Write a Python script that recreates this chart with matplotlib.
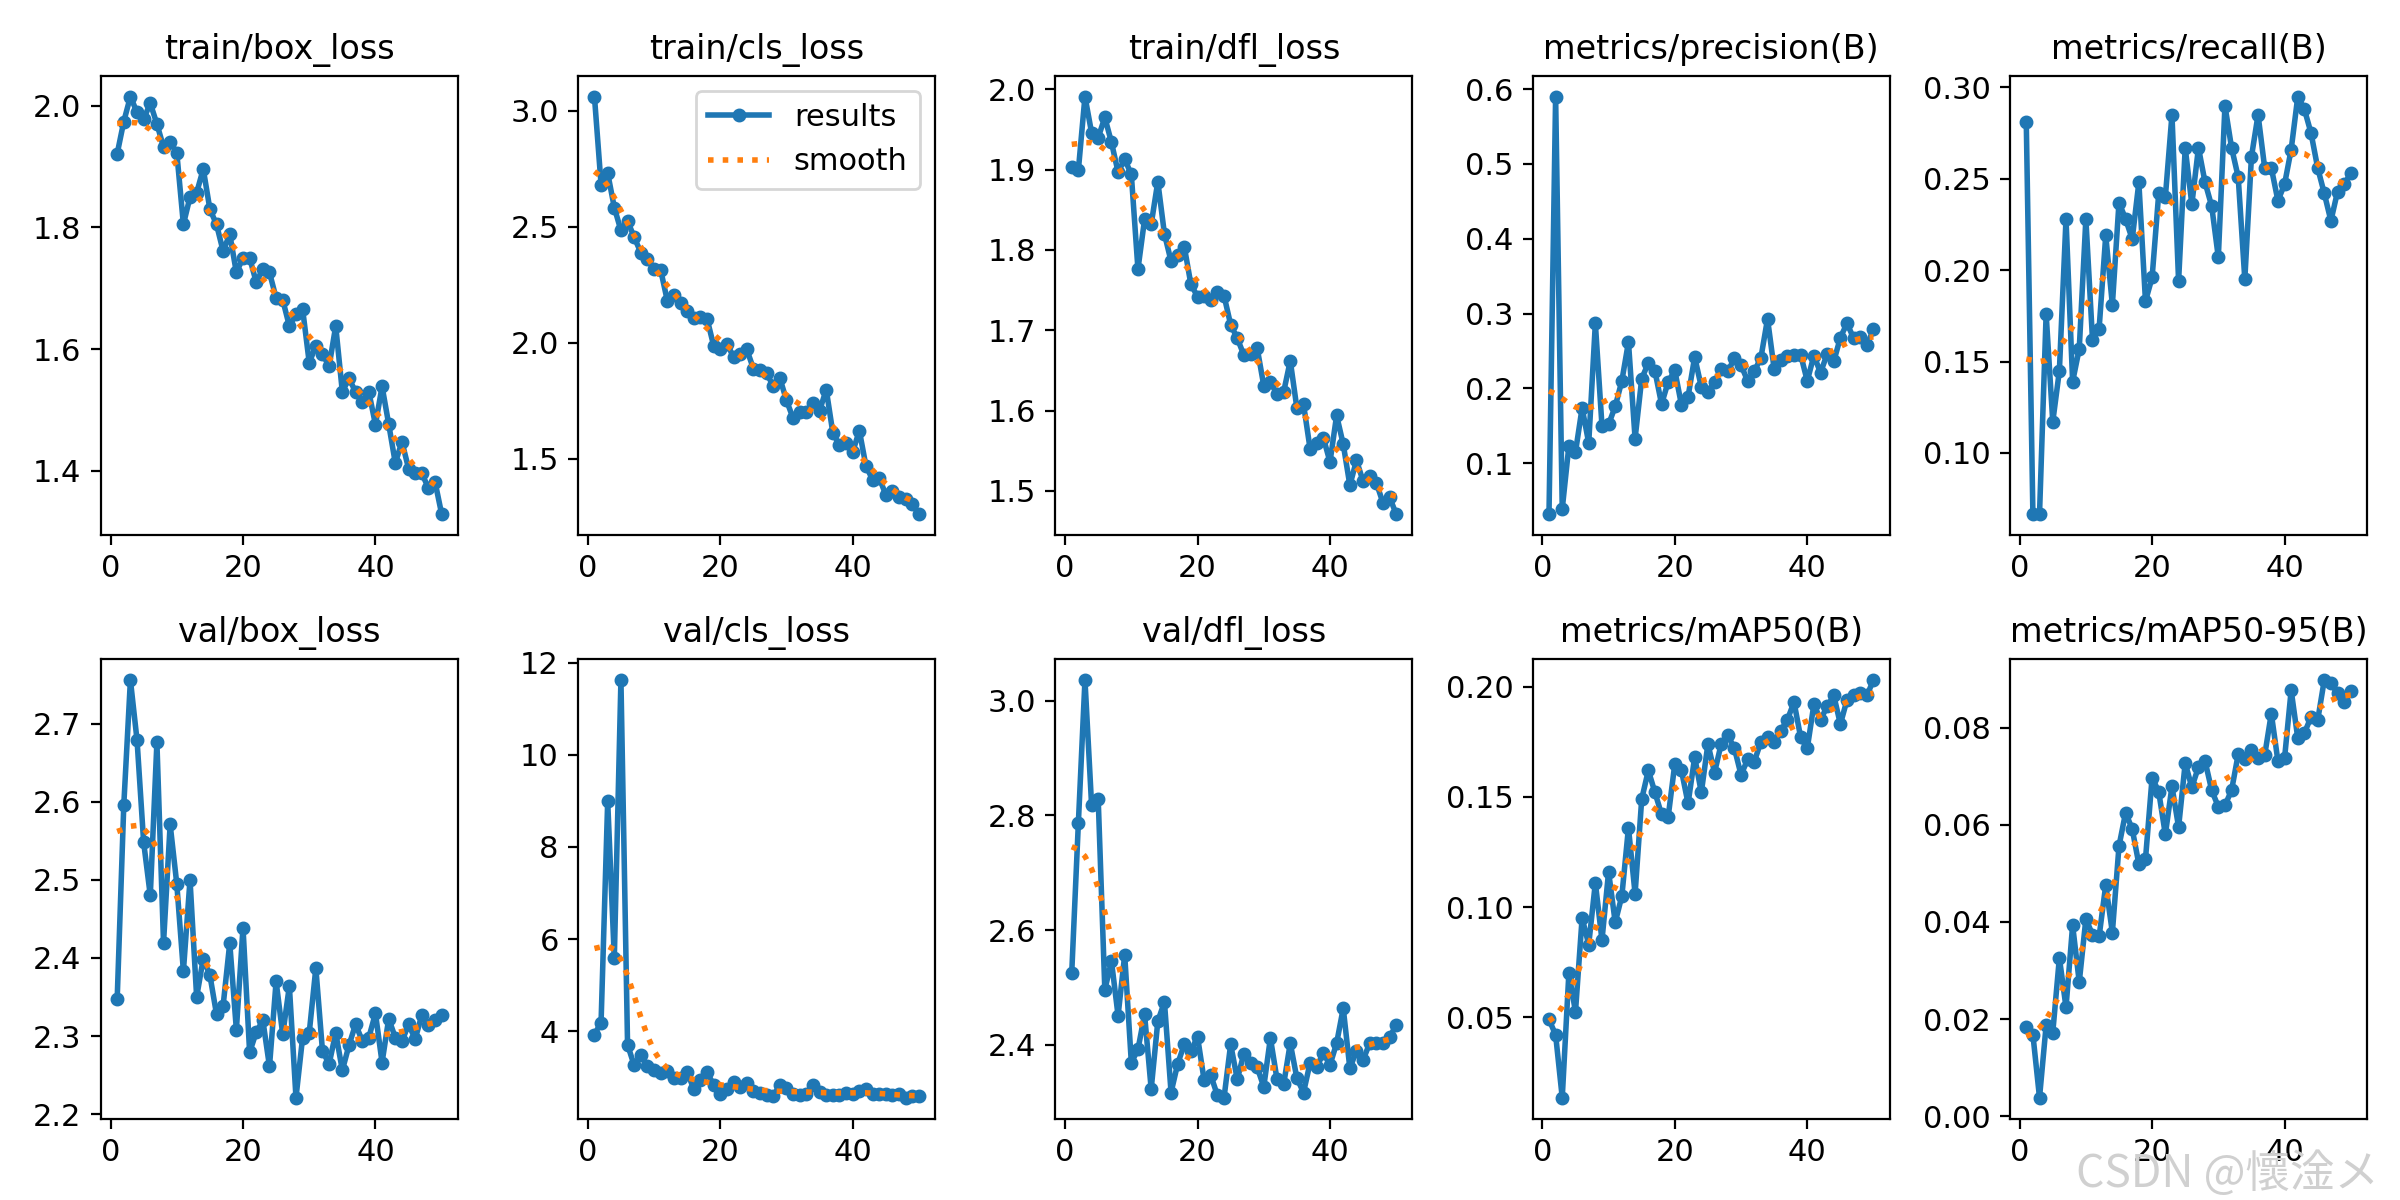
import numpy as np
import matplotlib
matplotlib.use('Agg')
import matplotlib.pyplot as plt

plt.rcParams['font.size'] = 11

epochs = list(range(1, 51))

train_box_loss = [1.921, 1.974, 2.015, 1.989, 1.978, 2.004, 1.970, 1.932, 1.940, 1.923,
                  1.805, 1.850, 1.857, 1.896, 1.830, 1.805, 1.761, 1.789, 1.726, 1.750,
                  1.750, 1.710, 1.732, 1.726, 1.684, 1.681, 1.638, 1.657, 1.666, 1.578,
                  1.605, 1.592, 1.572, 1.638, 1.530, 1.552, 1.530, 1.514, 1.530, 1.476,
                  1.539, 1.477, 1.413, 1.448, 1.404, 1.396, 1.396, 1.372, 1.382, 1.329]

train_cls_loss = [3.061, 2.682, 2.731, 2.583, 2.484, 2.525, 2.455, 2.389, 2.360, 2.318,
                  2.314, 2.182, 2.208, 2.170, 2.137, 2.107, 2.112, 2.104, 1.988, 1.972,
                  1.997, 1.939, 1.951, 1.972, 1.889, 1.881, 1.868, 1.815, 1.848, 1.752,
                  1.675, 1.700, 1.700, 1.741, 1.708, 1.799, 1.612, 1.559, 1.568, 1.530,
                  1.622, 1.469, 1.411, 1.419, 1.345, 1.361, 1.337, 1.328, 1.304, 1.262]

train_dfl_loss = [1.903, 1.899, 1.991, 1.946, 1.940, 1.965, 1.934, 1.897, 1.913, 1.894,
                  1.776, 1.838, 1.832, 1.885, 1.820, 1.786, 1.794, 1.804, 1.757, 1.742,
                  1.743, 1.738, 1.748, 1.743, 1.707, 1.690, 1.669, 1.670, 1.678, 1.631,
                  1.635, 1.621, 1.623, 1.662, 1.603, 1.608, 1.552, 1.559, 1.566, 1.536,
                  1.594, 1.558, 1.507, 1.538, 1.512, 1.519, 1.510, 1.485, 1.492, 1.471]

precision = [0.032, 0.590, 0.039, 0.123, 0.115, 0.174, 0.127, 0.287, 0.150, 0.152,
             0.176, 0.210, 0.262, 0.133, 0.213, 0.234, 0.223, 0.179, 0.209, 0.224,
             0.178, 0.189, 0.242, 0.202, 0.195, 0.209, 0.226, 0.223, 0.240, 0.231,
             0.210, 0.223, 0.241, 0.293, 0.226, 0.238, 0.244, 0.245, 0.245, 0.210,
             0.244, 0.221, 0.246, 0.236, 0.268, 0.287, 0.267, 0.269, 0.258, 0.279]

recall = [0.281, 0.0665, 0.0665, 0.176, 0.117, 0.145, 0.228, 0.139, 0.157, 0.228,
          0.162, 0.168, 0.219, 0.181, 0.237, 0.228, 0.217, 0.248, 0.183, 0.196,
          0.242, 0.240, 0.285, 0.194, 0.267, 0.236, 0.267, 0.248, 0.235, 0.207,
          0.290, 0.267, 0.251, 0.195, 0.262, 0.285, 0.256, 0.256, 0.238, 0.247,
          0.266, 0.295, 0.288, 0.275, 0.256, 0.242, 0.227, 0.243, 0.247, 0.253]

val_box_loss = [2.347, 2.596, 2.756, 2.679, 2.548, 2.480, 2.676, 2.419, 2.571, 2.495,
                2.383, 2.500, 2.350, 2.399, 2.378, 2.328, 2.339, 2.419, 2.308, 2.439,
                2.279, 2.305, 2.320, 2.261, 2.370, 2.302, 2.364, 2.221, 2.298, 2.304,
                2.387, 2.281, 2.264, 2.304, 2.256, 2.288, 2.315, 2.294, 2.298, 2.329,
                2.266, 2.322, 2.298, 2.293, 2.315, 2.296, 2.327, 2.314, 2.320, 2.327]

val_cls_loss = [3.93, 4.19, 8.99, 5.59, 11.62, 3.71, 3.26, 3.49, 3.24, 3.17,
                3.09, 3.13, 2.98, 2.98, 3.11, 2.75, 2.95, 3.11, 2.84, 2.63,
                2.75, 2.89, 2.79, 2.88, 2.71, 2.67, 2.61, 2.59, 2.84, 2.78,
                2.63, 2.61, 2.65, 2.84, 2.69, 2.61, 2.61, 2.61, 2.67, 2.65,
                2.71, 2.75, 2.65, 2.65, 2.65, 2.61, 2.65, 2.56, 2.59, 2.59]

val_dfl_loss = [2.525, 2.786, 3.036, 2.818, 2.828, 2.496, 2.546, 2.451, 2.557, 2.369,
                2.392, 2.453, 2.323, 2.441, 2.475, 2.317, 2.367, 2.401, 2.390, 2.414,
                2.338, 2.347, 2.312, 2.308, 2.401, 2.340, 2.385, 2.369, 2.361, 2.327,
                2.412, 2.340, 2.331, 2.403, 2.342, 2.317, 2.369, 2.361, 2.386, 2.365,
                2.403, 2.464, 2.359, 2.390, 2.374, 2.403, 2.403, 2.403, 2.414, 2.434]

map50 = [0.049, 0.042, 0.0135, 0.070, 0.0525, 0.095, 0.083, 0.111, 0.085, 0.116,
         0.093, 0.105, 0.136, 0.106, 0.149, 0.162, 0.152, 0.142, 0.141, 0.165,
         0.162, 0.147, 0.168, 0.152, 0.174, 0.161, 0.174, 0.178, 0.172, 0.160,
         0.167, 0.166, 0.175, 0.177, 0.175, 0.180, 0.185, 0.193, 0.177, 0.172,
         0.192, 0.185, 0.191, 0.196, 0.183, 0.194, 0.196, 0.197, 0.196, 0.203]

map50_95 = [0.0184, 0.0168, 0.0038, 0.0187, 0.0172, 0.0326, 0.0224, 0.0393, 0.0276, 0.0406,
            0.0374, 0.0370, 0.0476, 0.0378, 0.0556, 0.0625, 0.0591, 0.0519, 0.0529, 0.0697,
            0.0668, 0.0580, 0.0679, 0.0595, 0.0727, 0.0677, 0.0719, 0.0731, 0.0671, 0.0637,
            0.0640, 0.0671, 0.0745, 0.0735, 0.0754, 0.0738, 0.0743, 0.0829, 0.0731, 0.0737,
            0.0877, 0.0778, 0.0789, 0.0822, 0.0815, 0.0898, 0.0891, 0.0871, 0.0853, 0.0875]

titles = ['train/box_loss', 'train/cls_loss', 'train/dfl_loss', 'metrics/precision(B)', 'metrics/recall(B)',
          'val/box_loss', 'val/cls_loss', 'val/dfl_loss', 'metrics/mAP50(B)', 'metrics/mAP50-95(B)']
series = [train_box_loss, train_cls_loss, train_dfl_loss, precision, recall,
          val_box_loss, val_cls_loss, val_dfl_loss, map50, map50_95]


def gaussian_smooth(y, sigma=3, truncate=4.0):
    # same as scipy gaussian_filter1d with mode='reflect'
    y = np.asarray(y, dtype=float)
    r = int(truncate * sigma + 0.5)
    k = np.exp(-0.5 * (np.arange(-r, r + 1) / sigma) ** 2)
    k /= k.sum()
    yp = np.pad(y, r, mode='symmetric')
    return np.convolve(yp, k, mode='valid')


fig, ax = plt.subplots(2, 5, figsize=(12, 6), tight_layout=True)
ax = ax.ravel()
for i, (t, y) in enumerate(zip(titles, series)):
    ax[i].plot(epochs, y, marker='.', label='results', linewidth=2, markersize=8)
    ax[i].plot(epochs, gaussian_smooth(y), ':', label='smooth', linewidth=2)
    ax[i].set_title(t, fontsize=12)
ax[1].legend()

fig.text(0.865, 0.022, 'CSDN @懷淦メ', fontsize=16, color='#d0d0d0', va='center',
         family=['Noto Sans CJK JP', 'DejaVu Sans'])

fig.savefig('out.png', dpi=200)
